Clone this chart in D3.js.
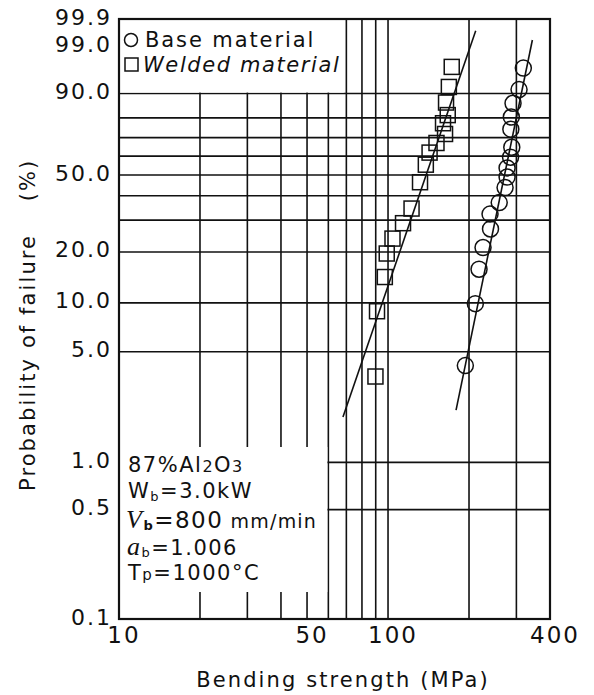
<!DOCTYPE html>
<html>
<head>
<meta charset="utf-8">
<script src="https://cdn.jsdelivr.net/npm/d3@7"></script>
<style>
  html, body { margin: 0; padding: 0; background: #fff; }
  svg { display: block; }
  text { font-family: "DejaVu Sans", sans-serif; fill: #111; }
</style>
</head>
<body>
<svg id="chart" width="594" height="695"></svg>
<script>
// ---------- data ----------
const xTickValues = [10, 50, 100, 400];
const xTickLabels = ["10", "50", "100", "400"];
const xGridValues = [20, 30, 40, 50, 60, 70, 80, 90, 100, 200, 300];
const yTickValues = [99.9, 99.0, 90.0, 50.0, 20.0, 10.0, 5.0, 1.0, 0.5, 0.1];
const yTickLabels = ["99.9", "99.0", "90.0", "50.0", "20.0", "10.0", "5.0", "1.0", "0.5", "0.1"];
const yGridValues = [90, 80, 70, 60, 50, 40, 30, 20, 10, 5, 1, 0.5];

// Base material (circles): bending strength (MPa), probability of failure (%)
const baseStrength = [193.8, 211.1, 217.9, 225.5, 240.4, 239.4, 259.0, 272.3, 277.0, 277.0, 285.4, 288.4, 286.1, 287.3, 291.5, 306.9, 318.4];
const baseProb     = [4.1, 9.9, 15.9, 21.2, 26.9, 32.3, 37.0, 43.8, 49.0, 53.7, 59.4, 64.8, 74.4, 80.4, 86.4, 91.3, 96.5];
// Welded material (squares)
const weldStrength = [89.8, 91.0, 97.3, 98.9, 103.9, 113.7, 122.3, 131.5, 138.2, 142.7, 151.4, 162.9, 160.1, 166.7, 164.3, 168.3, 172.5];
const weldProb     = [3.5, 8.9, 14.3, 19.6, 23.8, 28.9, 34.5, 46.4, 55.4, 61.9, 67.1, 71.9, 77.4, 81.3, 86.7, 92.1, 96.7];
// Fitted Weibull lines (end points)
const baseFitStrength = [179, 344];
const baseFitProb     = [2.15, 99.37];
const weldFitStrength = [68, 211.8];
const weldFitProb     = [1.94, 99.7];

const legendLabels = ["Base material", "Welded material"];

// ---------- layout ----------
const svg = d3.select("#chart");
const L = 119, R = 550, T = 19, B = 619;
const weib = p => Math.log(-Math.log(1 - p / 100));
const x = d3.scaleLog().domain([10, 400]).range([L, R]);
const y = d3.scaleLinear().domain([weib(0.1), weib(99.9)]).range([B, T]);

const g = svg.append("g");

// grid
g.selectAll("line.vg").data(xGridValues).enter().append("line")
  .attr("x1", d => x(d)).attr("x2", d => x(d)).attr("y1", T).attr("y2", B)
  .attr("stroke", "#111").attr("stroke-width", 1.6);
g.selectAll("line.hg").data(yGridValues).enter().append("line")
  .attr("x1", L).attr("x2", R).attr("y1", d => y(weib(d))).attr("y2", d => y(weib(d)))
  .attr("stroke", "#111").attr("stroke-width", 1.6);

// white boxes for legend and annotation
g.append("rect").attr("x", L).attr("y", T).attr("width", x(68.5) - L).attr("height", y(weib(90)) - T - 1)
  .attr("fill", "#fff");
g.append("rect").attr("x", L).attr("y", 447).attr("width", x(60) - L - 1).attr("height", 592 - 447)
  .attr("fill", "#fff");

// border
g.append("rect").attr("x", L).attr("y", T).attr("width", R - L).attr("height", B - T)
  .attr("fill", "none").attr("stroke", "#111").attr("stroke-width", 2.2);

// fit lines
const line = d3.line().x(d => x(d[0])).y(d => y(weib(d[1])));
g.append("path").attr("d", line(d3.zip(weldFitStrength, weldFitProb)))
  .attr("fill", "none").attr("stroke", "#111").attr("stroke-width", 1.6);
g.append("path").attr("d", line(d3.zip(baseFitStrength, baseFitProb)))
  .attr("fill", "none").attr("stroke", "#111").attr("stroke-width", 1.6);

// markers
g.selectAll("rect.sq").data(d3.zip(weldStrength, weldProb)).enter().append("rect")
  .attr("x", d => x(d[0]) - 7.5).attr("y", d => y(weib(d[1])) - 7.5)
  .attr("width", 15).attr("height", 15)
  .attr("fill", "none").attr("stroke", "#111").attr("stroke-width", 1.5);
g.selectAll("circle.ci").data(d3.zip(baseStrength, baseProb)).enter().append("circle")
  .attr("cx", d => x(d[0])).attr("cy", d => y(weib(d[1]))).attr("r", 8)
  .attr("fill", "none").attr("stroke", "#111").attr("stroke-width", 1.5);

// y tick labels
g.selectAll("text.yt").data(yTickValues).enter().append("text")
  .attr("x", 110 + 2).attr("y", d => y(weib(d)) - 2)
  .attr("text-anchor", "end").attr("dominant-baseline", "central")
  .attr("font-size", 22).attr("letter-spacing", 2)
  .text((d, i) => yTickLabels[i]);

// x tick labels
g.selectAll("text.xt").data(xTickValues).enter().append("text")
  .attr("x", d => x(d) + 4 + 1).attr("y", 643)
  .attr("text-anchor", "middle")
  .attr("font-size", 23).attr("letter-spacing", 2)
  .text((d, i) => xTickLabels[i]);

// axis titles
svg.append("text").attr("x", 343).attr("y", 687).attr("text-anchor", "middle")
  .attr("font-size", 21).attr("letter-spacing", 2.1)
  .text("Bending strength (MPa)");
svg.append("text").attr("transform", "translate(35,491) rotate(-90)")
  .attr("font-size", 21).attr("letter-spacing", 2.1)
  .text("Probability of failure");
svg.append("text").attr("transform", "translate(35,180) rotate(-90)")
  .attr("text-anchor", "middle")
  .attr("font-size", 21).attr("letter-spacing", 2.1)
  .text("(%)");

// legend
g.append("circle").attr("cx", 131).attr("cy", 40).attr("r", 6.5)
  .attr("fill", "none").attr("stroke", "#111").attr("stroke-width", 1.5);
g.append("rect").attr("x", 125).attr("y", 58).attr("width", 13).attr("height", 13)
  .attr("fill", "none").attr("stroke", "#111").attr("stroke-width", 1.5);
g.append("text").attr("x", 145).attr("y", 47).attr("font-size", 21).attr("letter-spacing", 1.9)
  .text(legendLabels[0]);
g.append("text").attr("x", 143).attr("y", 72).attr("font-size", 21).attr("letter-spacing", 1.6)
  .attr("font-style", "italic")
  .text(legendLabels[1]);

// annotation
const ann = g.append("g").attr("font-size", 21).attr("letter-spacing", 1.5);
const t1 = ann.append("text").attr("x", 128).attr("y", 472);
t1.append("tspan").text("87%Al");
t1.append("tspan").attr("font-size", 16).text("2");
t1.append("tspan").text("O");
t1.append("tspan").attr("font-size", 16).text("3");

const t2 = ann.append("text").attr("x", 128).attr("y", 498);
t2.append("tspan").text("W");
t2.append("tspan").attr("font-size", 13).attr("dy", 3).text("b");
t2.append("tspan").attr("dy", -3).text("=3.0kW");

const t3 = ann.append("text").attr("x", 126).attr("y", 528);
t3.append("tspan").attr("font-family", "Liberation Serif").attr("font-style", "italic").attr("font-size", 26).text("V");
t3.append("tspan").attr("font-size", 13).attr("font-weight", "bold").attr("dy", 2).text("b");
t3.append("tspan").attr("dy", -2).attr("font-size", 23).text("=800");
t3.append("tspan").attr("font-size", 19).attr("letter-spacing", 1.2).text(" mm/min");

const t4 = ann.append("text").attr("x", 127).attr("y", 555);
t4.append("tspan").attr("font-family", "Liberation Serif").attr("font-style", "italic").attr("font-size", 26).text("a");
t4.append("tspan").attr("font-size", 13).attr("dy", 2).text("b");
t4.append("tspan").attr("dy", -2).text("=1.006");

const t5 = ann.append("text").attr("x", 128).attr("y", 580);
t5.append("tspan").text("T");
t5.append("tspan").attr("font-size", 15).text("p");
t5.append("tspan").text("=1000°C");
</script>
</body>
</html>
